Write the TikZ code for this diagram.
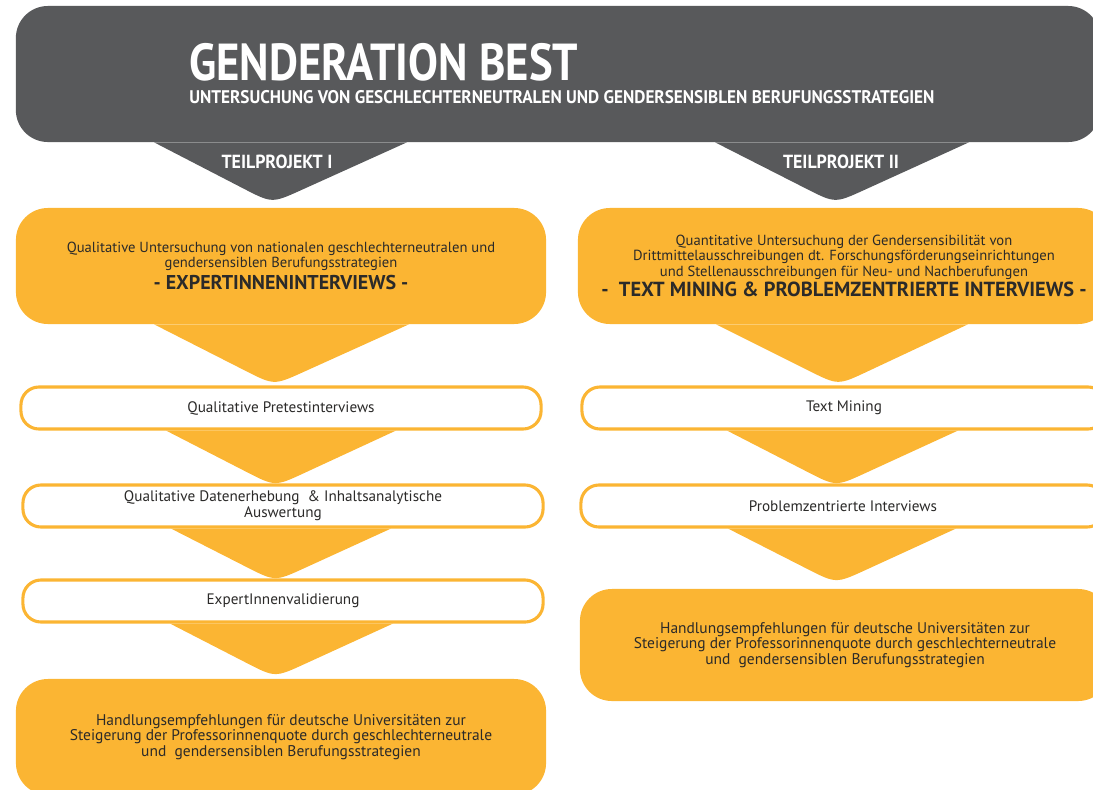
\documentclass[tikz,border=0pt]{standalone}
\usepackage{fontspec}
\setmainfont{PT Sans}
\newfontfamily\kopffont[FakeStretch=0.86]{PT Sans}
\newfontfamily\labelfont[FakeStretch=0.94]{PT Sans}
\usetikzlibrary{calc,backgrounds,positioning}
\definecolor{kopfgrau}{HTML}{58595B}
\definecolor{gelb}{HTML}{FBB533}
\definecolor{schrift}{HTML}{2B2A29}
\tikzset{
  gelbbox/.style={fill=gelb, rounded corners=0.8cm, minimum width=13.25cm, minimum height=2.9cm,
    align=center, text=schrift, inner sep=0pt, font=\fontsize{10.4}{10.9}\selectfont},
  schrittbox/.style={draw=gelb, line width=2.2pt, fill=white, rounded corners=0.45cm,
    minimum width=13cm, minimum height=1.05cm, align=center, text=schrift, inner sep=0pt,
    font=\fontsize{10.8}{11.4}\selectfont},
  kopftext/.style={text=white, inner sep=0pt, font=\kopffont\bfseries},
}
% Zacke unter einer Box: Farbe, x-Bezug, y-Bezug, links, rechts, Tiefe, Versatz der Spitze
\newcommand{\zacke}[7]{
  \coordinate (zm) at (#2.center |- #3.south);
  \coordinate (zl) at ($(zm)+(-#4,0)$);
  \coordinate (zr) at ($(zm)+(#5,0)$);
  \coordinate (zt) at ($(zm)+(#7,#6)$);
  \fill[#1] (zl) -- ($(zt)!0.8cm!(zl)$) .. controls (zt) .. ($(zt)!0.8cm!(zr)$) -- (zr) -- cycle;
}
\begin{document}
\begin{tikzpicture}[x=0.025cm,y=-0.025cm]
\useasboundingbox (0,0) rectangle (1093,790);
\clip (0,0) rectangle (1093,790);
%Kopf
\node[fill=kopfgrau, rounded corners=0.8cm, minimum width=27.1cm, minimum height=3.4cm] (kopf) at (558,74) {};
\node[kopftext, anchor=base west, text depth=0pt, font=\kopffont\bfseries\fontsize{37}{37}\selectfont] (titel) at (189,80) {GENDERATION BEST};
\node[kopftext, anchor=base west, text height=9pt, font=\labelfont\bfseries\fontsize{13}{13}\selectfont] (untertitel) at (189,103) {UNTERSUCHUNG VON GESCHLECHTERNEUTRALEN UND GENDERSENSIBLEN BERUFUNGSSTRATEGIEN};
%Teilprojekt I
\node[gelbbox] (quali) at (281,266) {Qualitative Untersuchung von nationalen geschlechterneutralen und\\ gendersensiblen Berufungsstrategien\\[2pt] {\bfseries\fontsize{14.2}{14.5}\selectfont - EXPERTINNENINTERVIEWS -}};
\node[schrittbox] (pretest) at (281,408) {Qualitative Pretestinterviews};
\node[schrittbox] (daten) at (283,506) {Qualitative Datenerhebung \ \& Inhaltsanalytische\\ Auswertung};
\node[schrittbox] (valid) at (283,601) {ExpertInnenvalidierung};
\node[gelbbox, font=\fontsize{11}{11.2}\selectfont] (empf1) at (281,737) {Handlungsempfehlungen für deutsche Universitäten zur\\ Steigerung der Professorinnenquote durch geschlechterneutrale\\ und \ gendersensiblen Berufungsstrategien};
%Teilprojekt II
\node[gelbbox, minimum width=13.3cm] (quanti) at (844,266) {Quantitative Untersuchung der Gendersensibilität von\\ Drittmittelausschreibungen dt. Forschungsförderungseinrichtungen\\ und Stellenausschreibungen für Neu- und Nachberufungen\\[1pt] {\bfseries\fontsize{14.5}{14.5}\selectfont - \ TEXT MINING \& PROBLEMZENTRIERTE INTERVIEWS -}};
\node[schrittbox, minimum width=13.1cm] (textmining) at (844,408) {Text Mining};
\node[schrittbox, minimum width=13.1cm] (problem) at (843,506) {Problemzentrierte Interviews};
\node[gelbbox, minimum height=2.8cm, font=\fontsize{11}{11.2}\selectfont] (empf2) at (845,645) {Handlungsempfehlungen für deutsche Universitäten zur\\ Steigerung der Professorinnenquote durch geschlechterneutrale\\ und \ gendersensiblen Berufungsstrategien};
\node[kopftext, font=\labelfont\bfseries\fontsize{13.5}{13.5}\selectfont] (tp1) at (277,162) {TEILPROJEKT I};
\node[kopftext, font=\labelfont\bfseries\fontsize{13.5}{13.5}\selectfont] (tp2) at (841,162) {TEILPROJEKT II};
\begin{scope}[on background layer]
\zacke{kopfgrau}{quali}{kopf}{127}{126}{61}{-9}
\zacke{kopfgrau}{quanti}{kopf}{129}{125}{61}{-9}
\zacke{gelb}{quali}{quali}{127}{128}{61}{-7}
\zacke{gelb}{pretest}{pretest}{115}{115}{56}{-6}
\zacke{gelb}{daten}{daten}{112}{108}{53}{-8}
\zacke{gelb}{valid}{valid}{113}{110}{54}{-8}
\zacke{gelb}{quanti}{quanti}{128}{124}{61}{-6}
\zacke{gelb}{textmining}{textmining}{117}{114}{56}{-8}
\zacke{gelb}{problem}{problem}{115}{113}{55}{-7}
\end{scope}
\end{tikzpicture}
\end{document}
